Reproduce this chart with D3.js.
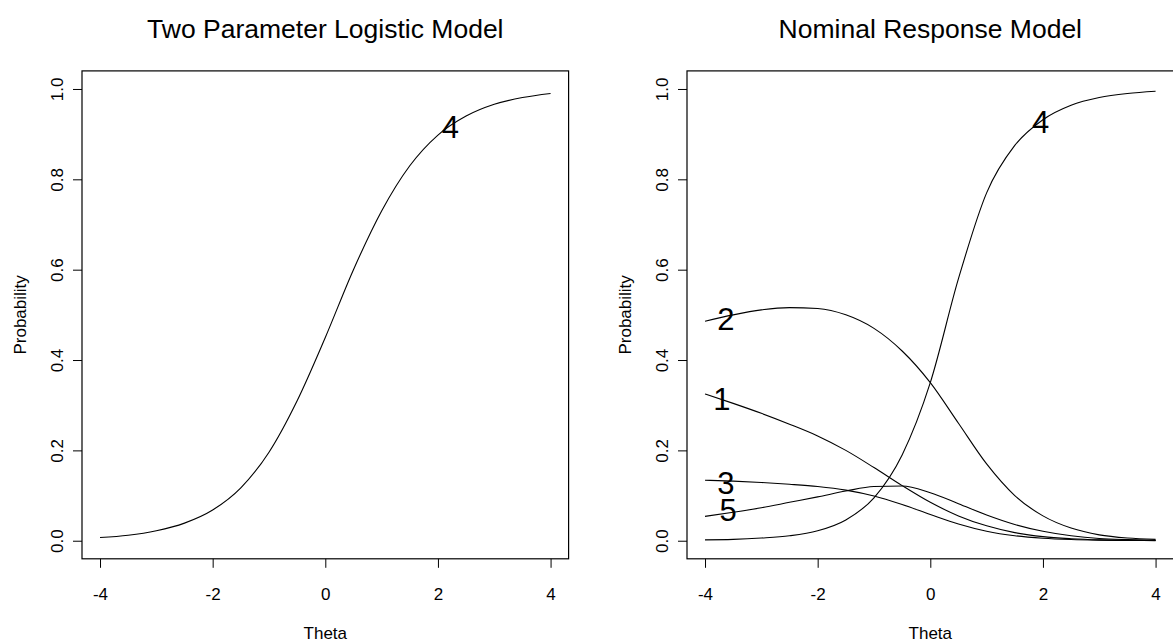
<!DOCTYPE html>
<html>
<head>
<meta charset="utf-8">
<script src="https://cdn.jsdelivr.net/npm/d3@7"></script>
<style>
  body { margin: 0; background: #fff; }
  text { font-family: "Liberation Sans", Arial, sans-serif; fill: #000; }
</style>
</head>
<body>
<svg id="chart"></svg>
<script>
var width = 1173;
var height = 644;

// theta grid the curves were read at
var theta = [-4, -3.5, -3, -2.5, -2, -1.5, -1, -0.5, 0, 0.5, 1, 1.5, 2, 2.5, 3, 3.5, 4];

// left panel: two parameter logistic
var p2pl = [0.007, 0.012, 0.022, 0.039, 0.068, 0.117, 0.196, 0.31, 0.45, 0.6, 0.73, 0.83, 0.898, 0.94, 0.966, 0.981, 0.99];

// right panel: nominal response categories
var cat1 = [0.325, 0.304, 0.282, 0.258, 0.232, 0.2, 0.162, 0.122, 0.085, 0.055, 0.033, 0.018, 0.009, 0.0045, 0.002, 0.001, 0.0005];
var cat2 = [0.486, 0.500, 0.511, 0.516, 0.514, 0.500, 0.470, 0.42, 0.35, 0.26, 0.17, 0.10, 0.055, 0.028, 0.013, 0.006, 0.003];
var cat3 = [0.134, 0.132, 0.129, 0.125, 0.12, 0.112, 0.099, 0.08, 0.058, 0.037, 0.021, 0.011, 0.0055, 0.0027, 0.0013, 0.0006, 0.0003];
var cat4 = [0.002, 0.003, 0.006, 0.011, 0.022, 0.046, 0.095, 0.19, 0.35, 0.58, 0.77, 0.875, 0.932, 0.964, 0.981, 0.99, 0.995];
var cat5 = [0.054, 0.063, 0.073, 0.085, 0.097, 0.11, 0.12, 0.121, 0.106, 0.082, 0.057, 0.036, 0.021, 0.011, 0.005, 0.0025, 0.001];

var xTicks = [-4, -2, 0, 2, 4];
var yTicks = [0, 0.2, 0.4, 0.6, 0.8, 1.0];

var svg = d3.select("#chart")
  .attr("width", width)
  .attr("height", height);

svg.append("rect").attr("width", width).attr("height", height).attr("fill", "#fff");

var plotTop = 70.9, plotBottom = 558.8;

function drawPanel(left, right, title, series, labels) {
  var x = d3.scaleLinear().domain([-4.32, 4.32]).range([left, right]);
  var y = d3.scaleLinear().domain([-0.04, 1.04]).range([plotBottom, plotTop]);
  var g = svg.append("g");

  // x axis
  var xa = g.append("g")
    .attr("transform", "translate(0," + plotBottom + ")")
    .call(d3.axisBottom(x).tickValues(xTicks).tickSize(9).tickSizeOuter(0).tickFormat(d3.format("d")));
  xa.select(".domain").remove();
  xa.selectAll("line").attr("stroke", "#000");
  xa.selectAll("text")
    .attr("y", 35).attr("dy", "0.35em")
    .style("font-size", "17px")
    .text(function(d) { return d < 0 ? "-" + Math.abs(d) : d; });

  // y axis
  var ya = g.append("g")
    .attr("transform", "translate(" + left + ",0)")
    .call(d3.axisLeft(y).tickValues(yTicks).tickSize(9).tickSizeOuter(0).tickFormat(d3.format(".1f")));
  ya.select(".domain").remove();
  ya.selectAll("line").attr("stroke", "#000");
  ya.selectAll("text")
    .attr("x", 0).attr("y", 0).attr("dy", "0.35em")
    .attr("transform", "translate(-25,0) rotate(-90)")
    .style("text-anchor", "middle")
    .style("font-size", "17px");

  // box
  g.append("rect")
    .attr("x", left).attr("y", plotTop)
    .attr("width", right - left).attr("height", plotBottom - plotTop)
    .attr("fill", "none").attr("stroke", "#000").attr("stroke-width", 1.2);

  var line = d3.line()
    .x(function(d, i) { return x(theta[i]); })
    .y(function(d) { return y(d); })
    .curve(d3.curveMonotoneX);

  series.forEach(function(s) {
    g.append("path")
      .attr("d", line(s))
      .attr("fill", "none")
      .attr("stroke", "#000")
      .attr("stroke-width", 1.1);
  });

  labels.forEach(function(l) {
    g.append("text")
      .attr("x", x(l.t)).attr("y", y(l.p))
      .attr("dy", "0.36em")
      .style("text-anchor", "middle")
      .style("font-size", "31px")
      .text(l.label);
  });

  g.append("text")
    .attr("x", (left + right) / 2).attr("y", 29)
    .attr("dy", "0.35em")
    .style("text-anchor", "middle")
    .style("font-size", "26.5px")
    .text(title);

  g.append("text")
    .attr("x", (left + right) / 2).attr("y", 633)
    .attr("dy", "0.35em")
    .style("text-anchor", "middle")
    .style("font-size", "17px")
    .text("Theta");

  g.append("text")
    .attr("transform", "translate(" + (left - 62) + "," + ((plotTop + plotBottom) / 2) + ") rotate(-90)")
    .attr("dy", "0.35em")
    .style("text-anchor", "middle")
    .style("font-size", "17px")
    .text("Probability");
}

drawPanel(82, 568.6, "Two Parameter Logistic Model", [p2pl],
  [{label: "4", t: 2.22, p: 0.917}]);

drawPanel(687, 1173.6, "Nominal Response Model", [cat1, cat2, cat3, cat4, cat5],
  [{label: "4", t: 1.96, p: 0.927},
   {label: "2", t: -3.63, p: 0.492},
   {label: "1", t: -3.70, p: 0.315},
   {label: "3", t: -3.63, p: 0.128},
   {label: "5", t: -3.59, p: 0.068}]);
</script>
</body>
</html>
